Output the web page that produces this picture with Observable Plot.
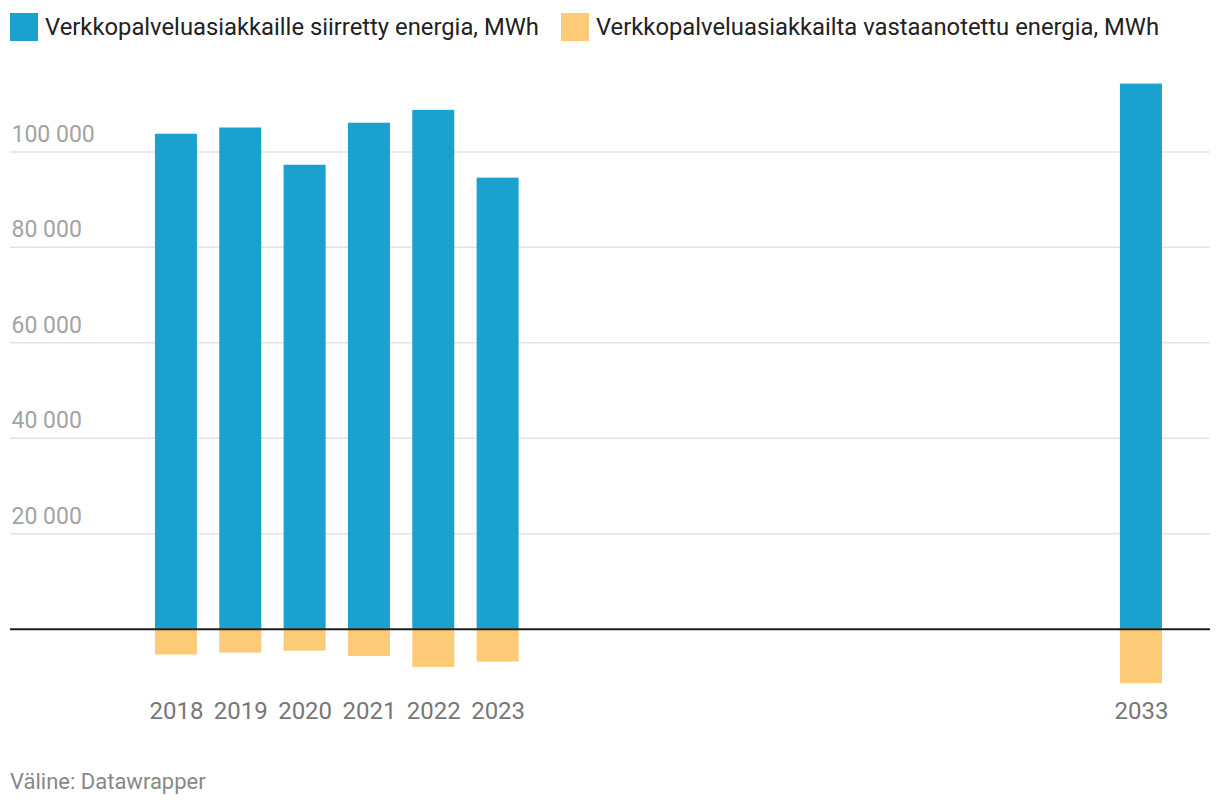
<!DOCTYPE html>
<html>
<head>
<meta charset="utf-8">
<script src="https://cdn.jsdelivr.net/npm/d3@7"></script>
<script src="https://cdn.jsdelivr.net/npm/@observablehq/plot@0.6"></script>
<style>
  html, body { margin: 0; padding: 0; background: #fff; }
  body { width: 1220px; height: 808px; position: relative; font-family: Roboto, "Noto Sans", sans-serif; overflow: hidden; }
  #legend { position: absolute; left: 10px; top: 13px; display: flex; align-items: center; font-size: 23.8px; color: #222; }
  .item { display: flex; align-items: center; margin-right: 22px; }
  .sw { width: 28px; height: 28px; margin-right: 7px; }
  #chart { position: absolute; left: 0; top: 55px; }
  #caption { position: absolute; left: 10px; top: 769px; font-size: 22px; color: #888; }
</style>
</head>
<body>
<div id="legend"></div>
<div id="chart"></div>
<div id="caption">Väline: Datawrapper</div>
<script>
const years = [2018, 2019, 2020, 2021, 2022, 2023, 2033];
const delivered = [103700, 105000, 97200, 106000, 108700, 94500, 114200];
const received = [-5400, -5000, -4600, -5700, -8000, -6900, -11400];
const seriesNames = ["Verkkopalveluasiakkaille siirretty energia, MWh", "Verkkopalveluasiakkailta vastaanotettu energia, MWh"];
const seriesColors = ["#1aa1cd", "#fdca78"];
const yTicks = [20000, 40000, 60000, 80000, 100000];

const rows = [];
years.forEach((y, i) => {
  rows.push({year: y, value: delivered[i], series: seriesNames[0]});
  rows.push({year: y, value: received[i], series: seriesNames[1]});
});

const allYears = d3.range(2018, 2034);
const fmt = d3.formatLocale({thousands: "\u00a0", grouping: [3], decimal: ","}).format(",");

const legend = document.getElementById("legend");
seriesNames.forEach((n, i) => {
  const it = document.createElement("div");
  it.className = "item";
  it.innerHTML = `<div class="sw" style="background:${seriesColors[i]}"></div><span>${n}</span>`;
  legend.appendChild(it);
});

const chart = Plot.plot({
  width: 1220,
  height: 700,
  marginTop: 20,
  marginBottom: 69,
  marginLeft: 10,
  marginRight: 10,
  style: {fontFamily: "Roboto, sans-serif", background: "white"},
  x: {type: "band", domain: allYears, paddingInner: 0.347, paddingOuter: 1.5, align: 0.751, round: false},
  y: {domain: [-12000, 116000]},
  color: {domain: seriesNames, range: seriesColors},
  marks: [
    Plot.ruleY(yTicks, {stroke: "#e3e3e3", strokeWidth: 1.5}),
    Plot.barY(rows, {x: "year", y: "value", fill: "series"}),
    Plot.ruleY([0], {stroke: "#1d1d1d", strokeWidth: 2}),
    Plot.axisY(yTicks, {tickSize: 0, tickPadding: 0, textAnchor: "start", lineAnchor: "bottom", dx: 1, dy: -10, tickFormat: fmt, fontSize: 23, fill: "#a3a3a3", label: null}),
    Plot.axisX(years, {tickSize: 0, tickPadding: 15, fontSize: 24, fill: "#777", label: null, tickFormat: d => String(d)})
  ]
});
document.getElementById("chart").appendChild(chart);
</script>
</body>
</html>
